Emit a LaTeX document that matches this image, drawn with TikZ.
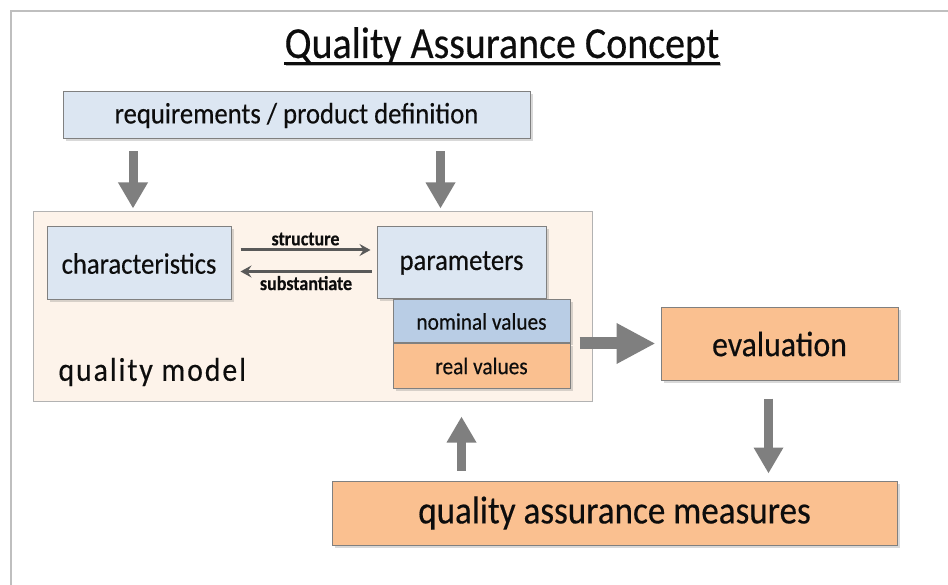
\documentclass[tikz,border=0pt]{standalone}
\usepackage{fontspec}
\setmainfont{Carlito}[FakeStretch=0.9, FakeBold=0.35]
\usetikzlibrary{arrows.meta,positioning,shadows}
\definecolor{boxblue}{HTML}{DCE6F2}
\definecolor{nomblue}{HTML}{B9CDE5}
\definecolor{boxorange}{HTML}{FAC090}
\definecolor{modelfill}{HTML}{FDF3EA}
\definecolor{arrowgray}{HTML}{7F7F7F}
\definecolor{textdark}{HTML}{0D0D0D}
\tikzset{
    block/.style = {
        draw = black!50,
        line width = 1pt,
        inner sep = 0pt,
        text = textdark,
        drop shadow = {shadow xshift=2.5pt, shadow yshift=-2.5pt, opacity=0.3},
        },
    blue block/.style = {
        block,
        fill = boxblue,
        font = \fontsize{29.6}{32}\selectfont,
        },
    orange block/.style = {
        block,
        fill = boxorange,
        },
    value block/.style = {
        block,
        minimum width = 177pt,
        font = \fontsize{23.7}{26}\selectfont,
        },
    fat arrow/.style = {
        draw = arrowgray,
        line width = 9pt,
        -{Triangle[width=28pt, length=26pt]},
        },
    thin arrow/.style = {
        draw = black!65,
        line width = 3pt,
        -{Stealth[length=11pt, width=12pt, inset=4pt]},
        },
    arrow label/.style = {
        font = \bfseries\fontsize{20}{22}\selectfont,
        text = textdark,
        inner sep = 3pt,
        },
}

\begin{document}
\begin{tikzpicture}[x=1pt, y=-1pt]
    \useasboundingbox (0,0) rectangle (948,585);
    \draw[black!25, line width=2pt] (11,585) -- (11,11) -- (948,11);

    % title
    \node[text=textdark, inner sep=0pt, anchor=base, font=\fontsize{44.4}{48}\selectfont] (title) at (502,58)
        {Quality Assurance Concept};
    \draw[black!30, line width=3pt] ([xshift=1.5pt, yshift=-7pt]title.base west) -- ([xshift=1.5pt, yshift=-7pt]title.base east);
    \draw[textdark, line width=3pt] ([yshift=-5.5pt]title.base west) -- ([yshift=-5.5pt]title.base east);

    % input
    \node[blue block, minimum width=467pt, minimum height=47pt] (req) at (296.5,115.5)
        {requirements / product definition};

    % quality model frame
    \node[draw=black!30, fill=modelfill, line width=1pt, minimum width=559pt,
        minimum height=189pt, inner sep=0pt] (qm) at (312.5,306.5) {};
    \node[anchor=west, text=textdark,
        font=\fontsize{33}{36}\selectfont\addfontfeatures{LetterSpace=6}] (qmlabel) at (55,372)
        {quality model};

    \node[blue block, minimum width=184pt, minimum height=73pt] (char) at (139,263.5)
        {characteristics};
    \node[blue block, minimum width=169pt, minimum height=72pt] (param) at (461.5,263)
        {parameters};
    \node[value block, fill=nomblue, minimum height=43pt] (nominal) at (481.5,321.5)
        {nominal values};
    \node[value block, fill=boxorange, minimum height=44pt, below=0pt of nominal] (real)
        {real values};

    % output side
    \node[orange block, minimum width=237pt, minimum height=72pt,
        font=\fontsize{35.3}{38}\selectfont] (eval) at (779.5,344) {evaluation};
    \node[orange block, minimum width=565pt, minimum height=64pt,
        font=\fontsize{39}{42}\selectfont] (qam) at (614.5,513) {quality assurance measures};

    % structure / substantiate
    \coordinate (s1) at ([xshift=9pt, yshift=13.5pt]char.east);
    \coordinate (s2) at ([xshift=-5pt, yshift=-8.5pt]param.west);
    \draw[thin arrow] (s1) -- ([xshift=-6pt]param.west |- s1)
        node[arrow label, above, midway] (struct) {structure};
    \draw[thin arrow] (s2) -- ([xshift=9pt]char.east |- s2)
        node[arrow label, below, midway] (subst) {substantiate};

    % big arrows
    \draw[fat arrow] ([xshift=-6pt, yshift=-12pt]req.south -| char.north) -- ([xshift=-6pt, yshift=3pt]qm.north -| char.north);
    \draw[fat arrow] ([xshift=-21pt, yshift=-12pt]req.south -| param.north) -- ([xshift=-21pt, yshift=3pt]qm.north -| param.north);
    \draw[fat arrow, line width=12pt, -{Triangle[width=38pt, length=39pt]}]
        ([xshift=9pt]nominal.south east) -- ([xshift=-5pt]eval.west |- nominal.south east);
    \draw[fat arrow] ([xshift=-11pt, yshift=-18pt]eval.south) -- ([xshift=-11pt, yshift=7pt]eval.south |- qam.north);
    \draw[fat arrow] ([yshift=10pt]qam.north -| param.south) -- ([yshift=-15pt]qm.south -| param.south);
\end{tikzpicture}
\end{document}
